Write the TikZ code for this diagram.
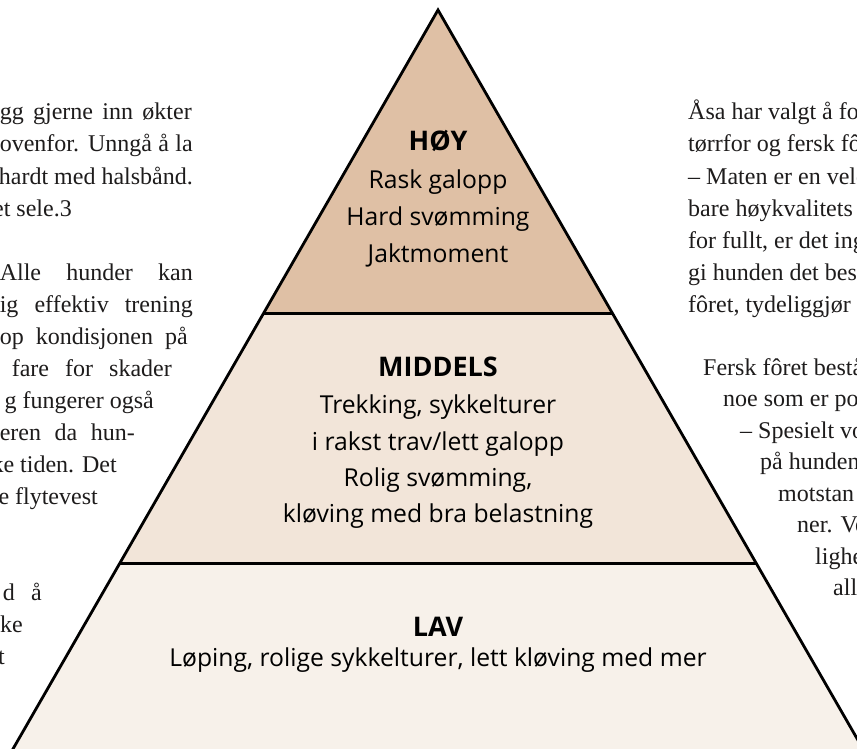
\documentclass[tikz,border=0pt]{standalone}
\usepackage{fontspec}
\setmainfont{Liberation Serif}
\newfontfamily\pyrfont{Open Sans}
\definecolor{choy}{RGB}{223,192,165}
\definecolor{cmid}{RGB}{242,229,217}
\definecolor{clav}{RGB}{247,241,234}
\definecolor{ink}{RGB}{30,28,28}
\begin{document}
\begin{tikzpicture}[x=1pt,y=-1pt,
  body/.style={inner sep=0pt,text=ink,font=\fontsize{24}{32}\selectfont},
  lt/.style={body,anchor=base east},
  rtx/.style={body,anchor=base west},
  ptx/.style={inner sep=0pt,anchor=base,text=black,font=\pyrfont\fontsize{24.7}{30}\selectfont},
  phd/.style={ptx,font=\pyrfont\bfseries\fontsize{27}{30}\selectfont},
  outline/.style={line width=2.8pt,line join=miter},
  divider/.style={line width=3pt}]
\useasboundingbox (0,0) rectangle (857,749);
\clip (0,0) rectangle (857,749);
\fill[white] (0,0) rectangle (857,749);
% pyramid geometry
\coordinate (apex) at (438,10);
\coordinate (l1) at (264,313);
\coordinate (r1) at (612,313);
\coordinate (l2) at (120,563);
\coordinate (r2) at (756,563);
\coordinate (l3) at (-2,775);
\coordinate (r3) at (878,775);
\fill[choy] (apex) -- (r1) -- (l1) -- cycle;
\fill[cmid] (l1) -- (r1) -- (r2) -- (l2) -- cycle;
\fill[clav] (l2) -- (r2) -- (r3) -- (l3) -- cycle;
\draw[divider] (l1) -- (r1);
\draw[divider] (l2) -- (r2);
\draw[outline] (l3) -- (apex) -- (r3);
% pyramid texts
\node[phd] (hoy) at (438,151) {HØY};
\node[ptx] (hoy1) at (438,189) {Rask galopp};
\node[ptx] (hoy2) at (438,225) {Hard svømming};
\node[ptx] (hoy3) at (438,262) {Jaktmoment};
\node[phd] (mid) at (438,376) {MIDDELS};
\node[ptx] (mid1) at (438,413) {Trekking, sykkelturer};
\node[ptx] (mid2) at (438,450) {i rakst trav/lett galopp};
\node[ptx] (mid3) at (438,486) {Rolig svømming,};
\node[ptx] (mid4) at (438,522) {kløving med bra belastning};
\node[phd] (lav) at (438,636) {LAV};
\node[ptx] (lav1) at (438,666) {Løping, rolige sykkelturer, lett kløving med mer};
% left column
\node[lt] (la1) at (192,120) {\makebox[192pt][s]{gg gjerne inn økter}};
\node[lt] (la2) at (193,152) {\makebox[193pt][s]{ovenfor. Unngå å la}};
\node[lt] (la3) at (193,184) {hardt med halsbånd.};
\node[lt] (la4) at (72,216) {et sele.3};
\node[lt] (la5) at (193,280) {\makebox[193pt][s]{Alle hunder kan}};
\node[lt] (la6) at (193,312) {\makebox[193pt][s]{ig effektiv trening}};
\node[lt] (la7) at (188,344) {\makebox[188pt][s]{op kondisjonen på}};
\node[lt] (la8) at (172,376) {\makebox[160pt][s]{fare for skader}};
\node[lt] (la9) at (154,408) {g fungerer også};
\node[lt] (la10) at (135,440) {\makebox[135pt][s]{eren da hun-}};
\node[lt] (la11) at (117,472) {ke tiden. Det};
\node[lt] (la12) at (98,504) {ke flytevest};
\node[lt] (la13) at (42,600) {\makebox[39pt][s]{d å}};
\node[lt] (la14) at (23,632) {ke};
\node[lt] (la15) at (5,664) {t};
% right column
\node[rtx] (ra1) at (688,120) {Åsa har valgt å for};
\node[rtx] (ra2) at (688,152) {tørrfor og fersk fô};
\node[rtx] (ra3) at (688,184) {– Maten er en veld};
\node[rtx] (ra4) at (688,216) {bare høykvalitets};
\node[rtx] (ra5) at (688,248) {for fullt, er det ing};
\node[rtx] (ra6) at (688,280) {gi hunden det bes};
\node[rtx] (ra7) at (688,312) {fôret, tydeliggjør};
\node[rtx] (rb1) at (703,375) {Fersk fôret bestå};
\node[rtx] (rb2) at (723,406) {noe som er po};
\node[rtx] (rb3) at (740,438) {– Spesielt vo};
\node[rtx] (rb4) at (760,469) {på hunden};
\node[rtx] (rb5) at (778,501) {motstan};
\node[rtx] (rb6) at (797,532) {ner. Ve};
\node[rtx] (rb7) at (815,564) {lighe};
\node[rtx] (rb8) at (833,595) {all};
\end{tikzpicture}
\end{document}
